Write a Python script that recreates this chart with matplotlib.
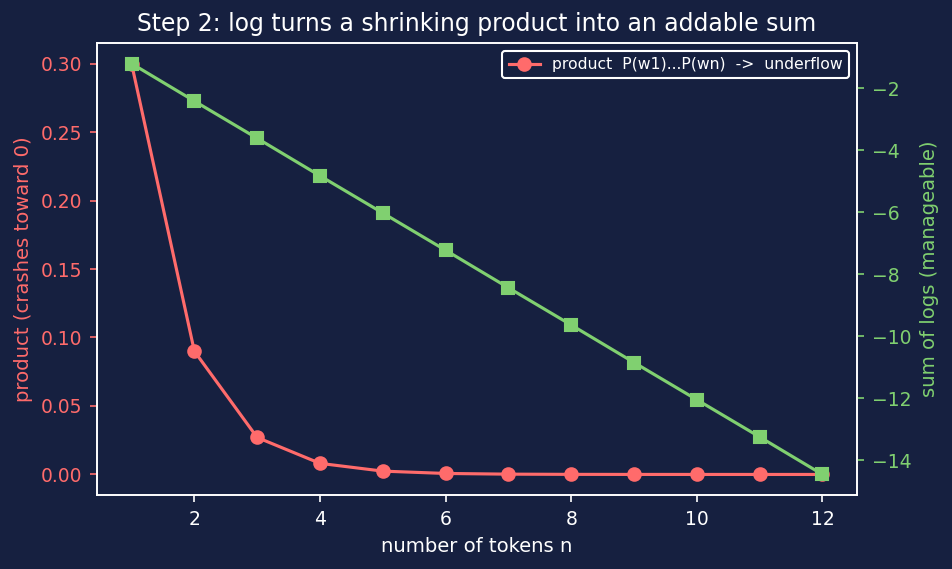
import matplotlib
matplotlib.use("Agg")
import matplotlib.pyplot as plt

n_tokens = [1, 2, 3, 4, 5, 6, 7, 8, 9, 10, 11, 12]
product_vals = [0.3, 0.09, 0.027, 0.0081, 0.00243, 0.000729, 0.000219, 0.0000656,
                0.0000197, 0.0000059, 0.0000018, 0.00000053]
log_sums = [-1.20, -2.41, -3.61, -4.82, -6.02, -7.22, -8.43, -9.63, -10.84, -12.04, -13.24, -14.45]

BG = "#162040"
RED = "#ff6b6b"
GREEN = "#80d070"
FG = "white"

fig = plt.figure(figsize=(952/150, 569/150), dpi=150, facecolor=BG)
ax = fig.add_axes([97/952, 1-495/569, (857-97)/952, (495-43)/569])
ax.set_facecolor(BG)
ax2 = ax.twinx()

l1, = ax.plot(n_tokens, product_vals, color=RED, marker="o", markersize=6, lw=1.5,
              label="product  P(w1)...P(wn)  ->  underflow")
ax2.plot(n_tokens, log_sums, color=GREEN, marker="s", markersize=6, lw=1.5)

ax.set_xlabel("number of tokens n", color=FG, fontsize=9.4)
ax.set_ylabel("product (crashes toward 0)", color=RED, fontsize=9.4)
ax2.set_ylabel("sum of logs (manageable)", color=GREEN, fontsize=9.4)
ax.set_title("Step 2: log turns a shrinking product into an addable sum", color=FG, fontsize=11.3)

ax.tick_params(axis="x", colors=FG, labelsize=9)
ax.tick_params(axis="y", colors=RED, labelsize=9)
ax2.tick_params(axis="y", colors=GREEN, labelsize=9)
for a in (ax, ax2):
    for s in a.spines.values():
        s.set_color(FG)

ax.set_xticks([2, 4, 6, 8, 10, 12])
ax.set_yticks([0.0, 0.05, 0.10, 0.15, 0.20, 0.25, 0.30])
ax2.set_yticks([-14, -12, -10, -8, -6, -4, -2])

leg = ax.legend(loc="upper right", fontsize=7.5, facecolor=BG, edgecolor=FG, framealpha=1)
for t in leg.get_texts():
    t.set_color(FG)

fig.savefig("out.png", dpi=150, facecolor=BG)
